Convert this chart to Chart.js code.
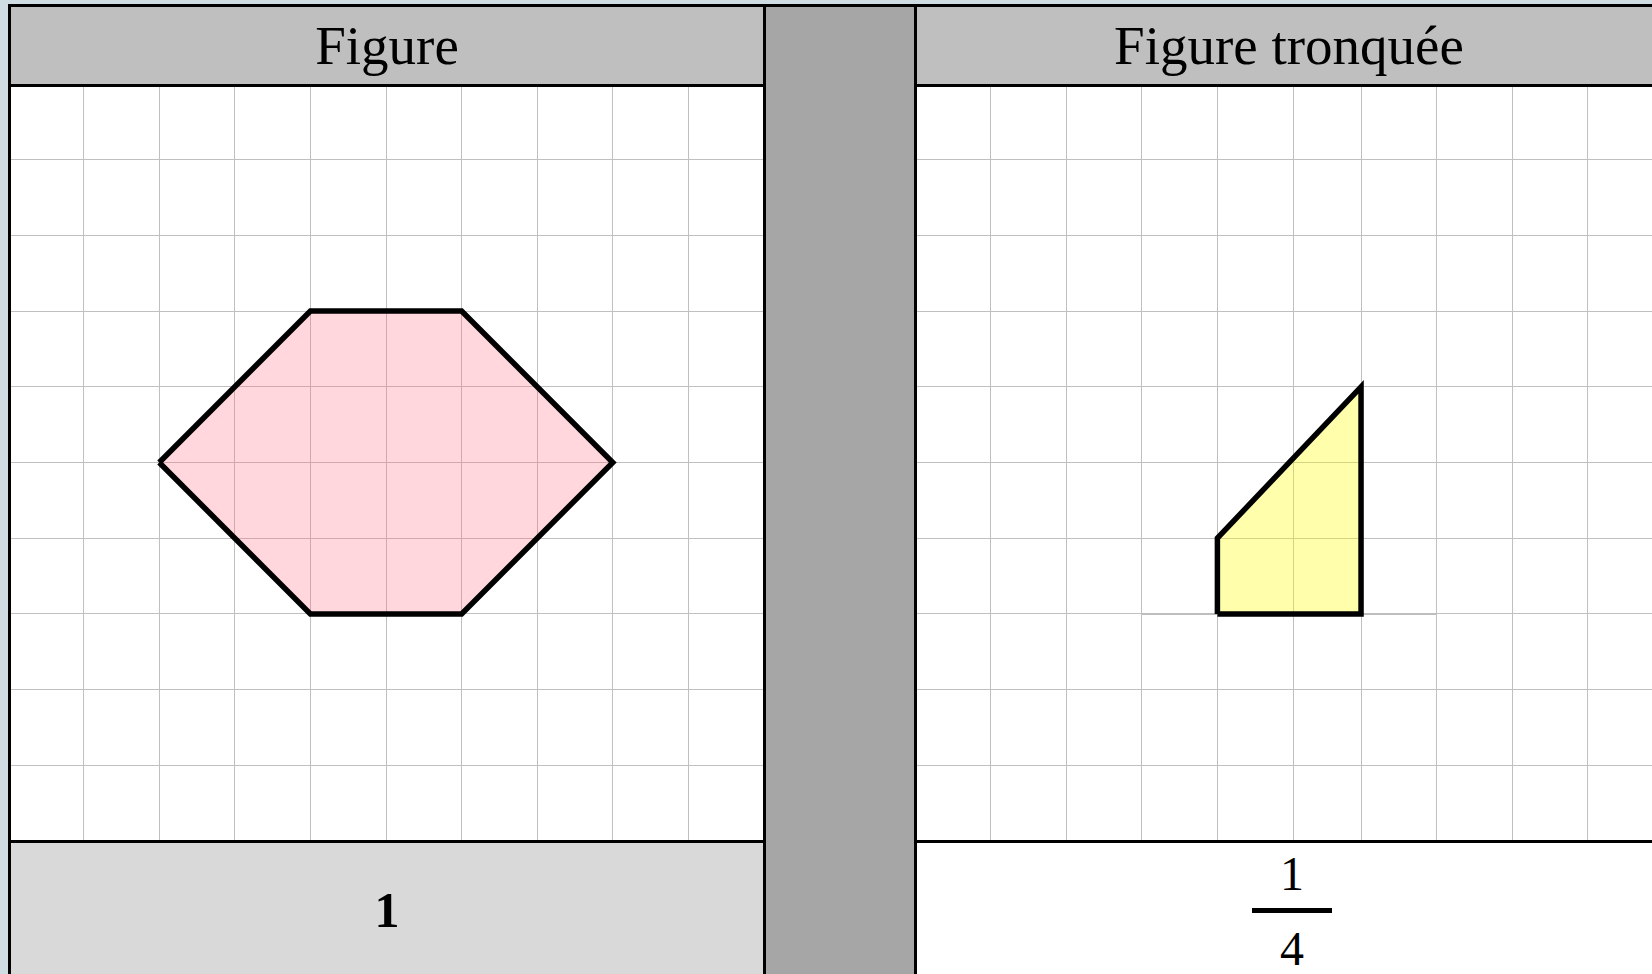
<!DOCTYPE html>
<html>
<head>
<meta charset="utf-8">
<script src="https://cdn.jsdelivr.net/npm/chart.js@4/dist/chart.umd.min.js"></script>
<style>
  body { margin: 0; width: 1652px; height: 974px; overflow: hidden; background: #cfdde3; position: relative; font-family: "Liberation Serif", serif; }
  .abs { position: absolute; box-sizing: border-box; }
  .hdr { background: #bfbfbf; border: 3px solid #000; z-index: 3; }
  .frame { border: 3px solid #000; z-index: 2; pointer-events: none; }
  .txt { position: absolute; white-space: nowrap; transform: translateX(-50%); line-height: 1; z-index: 4; color: #000; }
  canvas { position: absolute; z-index: 1; background: #fff; }
</style>
</head>
<body>
<div class="abs hdr" style="left:8px;top:4px;width:758px;height:83px;"></div>
<div class="abs hdr" style="left:914px;top:4px;width:770px;height:83px;"></div>
<div class="abs" style="left:763px;top:4px;width:154px;height:980px;background:#a6a6a6;border:3px solid #000;border-bottom:none;z-index:3;"></div>

<canvas id="left" width="756" height="757" style="left:8px;top:84px;"></canvas>
<canvas id="right" width="756" height="757" style="left:915px;top:84px;"></canvas>

<div class="abs frame" style="left:8px;top:83px;width:758px;height:760px;"></div>
<div class="abs frame" style="left:914px;top:83px;width:770px;height:760px;"></div>

<div class="abs" style="left:8px;top:840px;width:758px;height:150px;background:#d9d9d9;border:3px solid #000;z-index:3;"></div>
<div class="abs" style="left:914px;top:840px;width:770px;height:150px;background:#fff;border:3px solid #000;z-index:3;"></div>

<div id="t1" class="txt" style="left:387px;top:18px;font-size:55px;"></div>
<div id="t2" class="txt" style="left:1289px;top:18px;font-size:55px;"></div>
<div id="v1" class="txt" style="left:387px;top:885px;font-size:50px;font-weight:bold;"></div>
<div id="num" class="txt" style="left:1292px;top:850px;font-size:48px;"></div>
<div class="abs" style="left:1252px;top:908px;width:80px;height:5px;background:#000;z-index:4;"></div>
<div id="den" class="txt" style="left:1292px;top:925px;font-size:48px;"></div>

<script>
// panel texts
const titles = ['Figure', 'Figure tronquée'];
const fractionLeft = '1';
const fractionRight = ['1', '4'];

// grid positions (cell units)
const rowsY = [0, 1, 2, 3, 4, 5, 6, 7, 8, 9, 10];
const colsLeft = [0, 1, 2, 3, 4, 5, 6, 7, 8, 9, 10];
const colsRight = [0, 1, 2, 3, 4, 5, 5.9, 6.9, 7.9, 8.9, 9.9];

// shapes
const hexX = [2, 4, 6, 8, 6, 4, 2];
const hexY = [5, 7, 7, 5, 3, 3, 5];
const trapX = [4, 4, 5.9, 5.9, 4];
const trapY = [3, 4, 6, 3, 3];
const baseX = [3, 6.9];
const baseY = [3, 3];

document.getElementById('t1').textContent = titles[0];
document.getElementById('t2').textContent = titles[1];
document.getElementById('v1').textContent = fractionLeft;
document.getElementById('num').textContent = fractionRight[0];
document.getElementById('den').textContent = fractionRight[1];

const pts = (xs, ys) => xs.map((x, i) => ({ x: x, y: ys[i] }));

function gridAxis(ticks) {
  return {
    type: 'linear',
    min: 0,
    max: 10,
    afterBuildTicks: (axis) => { axis.ticks = ticks.map(v => ({ value: v })); },
    afterFit: (axis) => { if (axis.isHorizontal()) axis.height = 0; else axis.width = 0; },
    ticks: { display: false },
    grid: { color: '#c0c0c0', lineWidth: 1, drawTicks: false },
    border: { display: false }
  };
}

function makeChart(id, cols, datasets) {
  return new Chart(document.getElementById(id), {
    type: 'scatter',
    data: { datasets: datasets },
    options: {
      responsive: false,
      devicePixelRatio: 1,
      animation: false,
      layout: { padding: 0 },
      plugins: { legend: { display: false }, tooltip: { enabled: false } },
      scales: { x: gridAxis(cols), y: gridAxis(rowsY) }
    }
  });
}

makeChart('left', colsLeft, [{
  label: 'Figure',
  data: pts(hexX, hexY),
  showLine: true,
  fill: 'shape',
  backgroundColor: 'rgba(255, 100, 120, 0.26)',
  borderColor: '#000',
  borderWidth: 5.5,
  borderJoinStyle: 'miter',
  pointRadius: 0,
  tension: 0
}]);

makeChart('right', colsRight, [{
  label: 'Figure tronquée',
  data: pts(trapX, trapY),
  showLine: true,
  fill: 'shape',
  backgroundColor: 'rgba(255, 255, 0, 0.33)',
  borderColor: '#000',
  borderWidth: 5.5,
  borderJoinStyle: 'miter',
  pointRadius: 0,
  tension: 0
}, {
  label: 'base',
  data: pts(baseX, baseY),
  showLine: true,
  fill: false,
  borderColor: '#bdbdbd',
  borderWidth: 2,
  pointRadius: 0
}]);
</script>
</body>
</html>
